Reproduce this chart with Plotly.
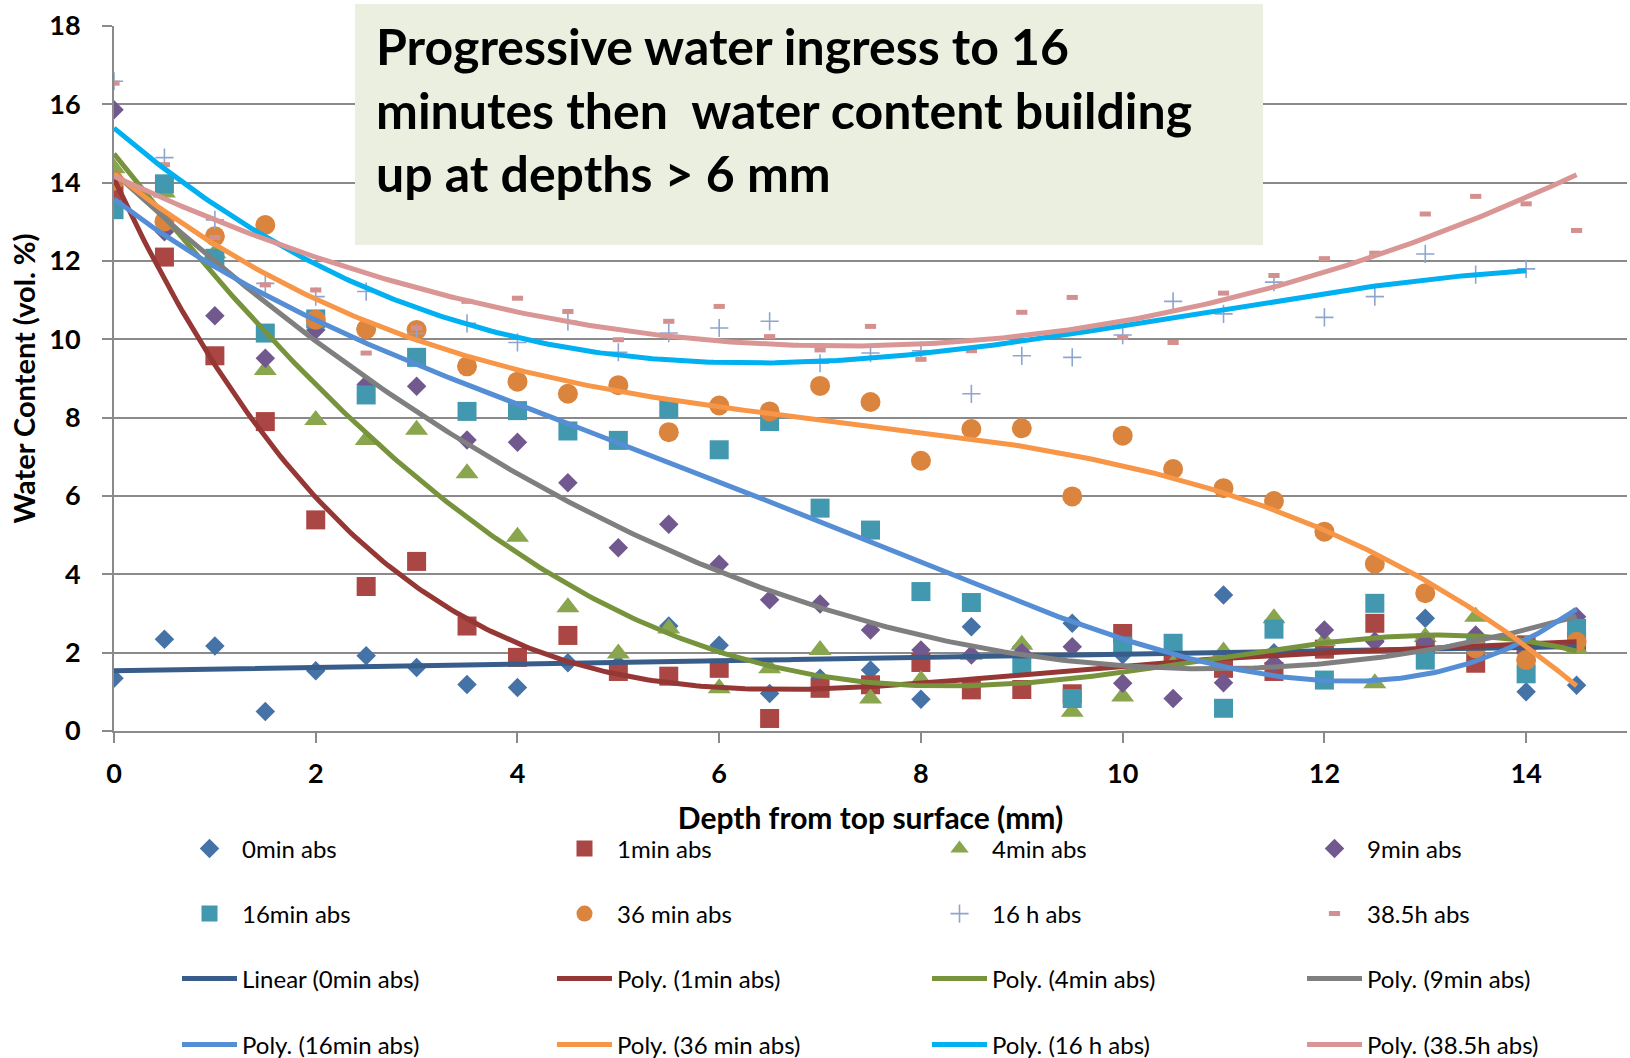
import numpy as np
import plotly.graph_objects as go

# Depth positions (mm) of each absorption reading
depth = [0, 0.5, 1, 1.5, 2, 2.5, 3, 3.5, 4, 4.5, 5, 5.5, 6, 6.5, 7,
         7.5, 8, 8.5, 9, 9.5, 10, 10.5, 11, 11.5, 12, 12.5, 13, 13.5, 14, 14.5]
depth_16h = [0, 0.5, 1, 1.5, 2, 2.5, 3, 3.5, 4, 4.5, 5, 5.5, 6, 6.5, 7,
             7.5, 8, 8.5, 9, 9.5, 10, 10.5, 11, 11.5, 12, 12.5, 13, 13.5, 14]

# Water content (vol. %) after each exposure time
wc_0min = [1.35, 2.34, 2.17, 0.50, 1.54, 1.92, 1.62, 1.19, 1.11, 1.74, 1.70, 2.68, 2.19, 0.96, 1.35,
           1.56, 0.81, 2.66, 2.15, 2.75, 1.95, 2.00, 3.47, 2.00, 2.10, 2.30, 2.88, 2.20, 1.00, 1.17]
wc_1min = [13.69, 12.10, 9.58, 7.90, 5.39, 3.69, 4.33, 2.68, 1.88, 2.44, 1.52, 1.40, 1.60, 0.32, 1.09,
           1.18, 1.75, 1.05, 1.06, 0.95, 2.49, 1.80, 1.60, 1.52, 2.09, 2.75, 2.20, 1.73, 2.20, 2.30]
wc_4min = [14.37, 13.75, 12.20, 9.22, 7.94, 7.43, 7.69, 6.58, 4.96, 3.16, 1.98, 2.62, 1.09, 1.60, 2.07,
           0.83, 1.30, 1.95, 2.20, 0.49, 0.88, 1.70, 2.03, 2.88, 2.30, 1.22, 2.40, 2.92, 2.20, 2.11]
wc_9min = [15.86, 12.75, 10.60, 9.52, 10.24, 8.85, 8.80, 7.43, 7.37, 6.34, 4.68, 5.28, 4.26, 3.35, 3.24,
           2.58, 2.07, 1.94, 2.00, 2.15, 1.22, 0.83, 1.23, 1.73, 2.58, 2.28, 2.28, 2.45, 2.00, 2.92]
wc_16min = [13.31, 13.97, 12.07, 10.16, 10.52, 8.58, 9.54, 8.16, 8.18, 7.66, 7.42, 8.22, 7.18, 7.90, 5.69,
            5.13, 3.56, 3.28, 1.71, 0.83, 2.17, 2.24, 0.58, 2.60, 1.30, 3.26, 1.81, 2.20, 1.46, 2.62]
wc_36min = [14.05, 13.01, 12.63, 12.92, 10.50, 10.26, 10.24, 9.31, 8.92, 8.61, 8.83, 7.63, 8.31, 8.16, 8.81,
            8.40, 6.90, 7.71, 7.73, 5.99, 7.54, 6.69, 6.20, 5.87, 5.09, 4.27, 3.52, 2.11, 1.81, 2.28]
wc_16h = [16.59, 14.64, 13.05, 11.43, 11.09, 11.22, 10.15, 10.41, 9.92, 10.46, 9.67, 10.16, 10.29, 10.46, 9.39,
          9.65, 9.71, 8.61, 9.58, 9.54, 10.11, 10.97, 10.65, 11.46, 10.56, 11.09, 12.18, 11.65, 11.80]
wc_38h = [16.54, 14.46, 12.60, 11.39, 11.26, 9.65, 10.29, 10.97, 11.05, 10.71, 9.99, 10.46, 10.84, 10.07, 9.73,
          10.33, 9.49, 9.71, 10.69, 11.07, 10.05, 9.92, 11.18, 11.63, 12.06, 12.20, 13.20, 13.65, 13.46, 12.78]

series_names = ["0min abs", "1min abs", "4min abs", "9min abs",
                "16min abs", "36 min abs", "16 h abs", "38.5h abs"]
trend_names = ["Linear (0min abs)", "Poly. (1min abs)", "Poly. (4min abs)", "Poly. (9min abs)",
               "Poly. (16min abs)", "Poly. (36 min abs)", "Poly. (16 h abs)", "Poly. (38.5h abs)"]
series_x = [depth, depth, depth, depth, depth, depth, depth_16h, depth]
series_y = [wc_0min, wc_1min, wc_4min, wc_9min, wc_16min, wc_36min, wc_16h, wc_38h]
fit_order = [1, 4, 4, 3, 4, 3, 3, 2]

marker_styles = [
    dict(symbol="diamond", size=15, color="#4572A7"),
    dict(symbol="square", size=19, color="#AA4643"),
    dict(symbol="triangle-up", size=20, color="#89A54E"),
    dict(symbol="diamond", size=15, color="#71588F"),
    dict(symbol="square", size=19, color="#4198AF"),
    dict(symbol="circle", size=20, color="#DB843D"),
    dict(symbol="cross-thin-open", size=13, color="#8EA5CE", line=dict(width=1.6, color="#8EA5CE")),
    dict(symbol="line-ew-open", size=8, color="#D3908F", line=dict(width=5, color="#D3908F")),
]
trend_colors = ["#385D8A", "#953735", "#77933C", "#7F7F7F",
                "#558ED5", "#F79646", "#00B0F0", "#D99694"]

legend_ids = ["legend", "legend2", "legend3", "legend4"]
FONT = "Lato"

fig = go.Figure()

# Measured points
for i in range(8):
    fig.add_trace(go.Scatter(
        x=series_x[i], y=series_y[i], mode="markers", name=series_names[i],
        marker=marker_styles[i], legend=legend_ids[i // 4],
    ))

# Least-squares trendlines fitted to each series
for i in range(8):
    xs = np.array(series_x[i], dtype=float)
    ys = np.array(series_y[i], dtype=float)
    coef = np.polyfit(xs, ys, fit_order[i])
    xf = np.linspace(xs.min(), xs.max(), 300)
    fig.add_trace(go.Scatter(
        x=xf, y=np.polyval(coef, xf), mode="lines", name=trend_names[i],
        line=dict(color=trend_colors[i], width=5), legend=legend_ids[2 + i // 4],
    ))

# Plot area geometry in pixels
L, R, T, B = 114, 1627, 26, 731
W, H = R - L, B - T

def py(pix):
    return (B - pix) / H

def px(pix):
    return (pix - L) / W

legend_rows = [849, 914, 979, 1045]
legend_cfg = {}
for k, lid in enumerate(legend_ids):
    legend_cfg[lid] = dict(
        orientation="h", x=px(177), xanchor="left", y=py(legend_rows[k]), yanchor="middle",
        entrywidth=305, entrywidthmode="pixels", itemwidth=55, bgcolor="rgba(0,0,0,0)",
        font=dict(family=FONT, size=24, color="#000000"), itemsizing="trace",
    )

grid_col = "#8A8A8A"
fig.update_layout(
    width=1630, height=1058,
    margin=dict(l=L, r=1630 - R, t=T, b=1058 - B, autoexpand=False),
    paper_bgcolor="white", plot_bgcolor="white",
    showlegend=True,
    font=dict(family=FONT, color="#000000"),
    xaxis=dict(
        range=[0, 15], dtick=2, tick0=0, showgrid=False, zeroline=False,
        showline=True, linecolor=grid_col, linewidth=2,
        ticks="outside", ticklen=10, tickwidth=2, tickcolor=grid_col,
        tickfont=dict(family=FONT, size=27, weight="bold"), ticklabelstandoff=8,
        title=dict(text="Depth from top surface (mm)", standoff=20,
                   font=dict(family=FONT, size=30, weight="bold")),
    ),
    yaxis=dict(
        range=[0, 18], dtick=2, tick0=0, showgrid=True, gridcolor=grid_col, gridwidth=2,
        zeroline=False, showline=True, linecolor=grid_col, linewidth=2,
        ticks="outside", ticklen=10, tickwidth=2, tickcolor=grid_col,
        tickfont=dict(family=FONT, size=27, weight="bold"), ticklabelstandoff=16,
        title=dict(text="Water Content (vol. %)", standoff=5,
                   font=dict(family=FONT, size=29, weight="bold")),
    ),
    **legend_cfg,
)

# Note box
fig.add_shape(type="rect", xref="paper", yref="paper",
              x0=px(355), x1=px(1263), y0=py(245), y1=py(4),
              fillcolor="#EBEFDF", line=dict(width=0), layer="above")
note_lines = ["Progressive water ingress to 16",
              "minutes then  water content building",
              "up at depths > 6 mm"]
for txt, yc in zip(note_lines, [46, 110, 173]):
    fig.add_annotation(xref="paper", yref="paper", x=px(374), y=py(yc),
                       xanchor="left", yanchor="middle", showarrow=False, align="left",
                       text=txt, font=dict(family=FONT, size=50, weight="bold", color="#000000"))

fig.write_html("out.html")
